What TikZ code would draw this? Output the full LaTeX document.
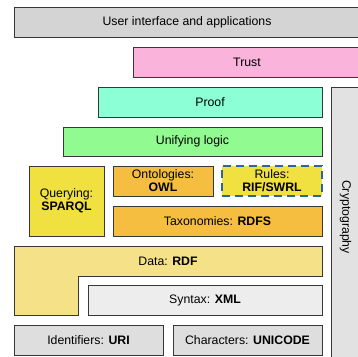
\documentclass[tikz,border=0pt]{standalone}
\usepackage{fontspec}
\setmainfont{Liberation Sans}
\usepackage{tikz}
\usetikzlibrary{positioning}

\definecolor{uigray}{RGB}{212,212,212}
\definecolor{trustpink}{RGB}{250,180,220}
\definecolor{proofgreen}{RGB}{140,255,215}
\definecolor{logicgreen}{RGB}{145,250,145}
\definecolor{queryyellow}{RGB}{240,225,65}
\definecolor{ontoorange}{RGB}{245,190,65}
\definecolor{rulesblue}{RGB}{45,100,160}
\definecolor{datayellow}{RGB}{245,225,135}
\definecolor{syntaxgray}{RGB}{237,237,237}
\definecolor{idgray}{RGB}{222,222,222}
\definecolor{cryptogray}{RGB}{226,226,226}
\definecolor{edgegray}{RGB}{55,55,55}

\begin{document}
\begin{tikzpicture}[x=1pt, y=-1pt,
    layer/.style={draw=edgegray, line width=1pt, inner sep=0pt, align=center,
        font=\fontsize{12.3}{13}\selectfont},
    dashedlayer/.style={layer, draw=rulesblue, line width=2pt, dash pattern=on 8pt off 5pt}]
    \useasboundingbox (0,0) rectangle (358,356);
    \clip (0,0) rectangle (358,356);

    \node[layer, fill=uigray, minimum width=346, minimum height=30] (ui) at (187, 22) {User interface and applications};
    \node[layer, fill=trustpink, minimum width=228, minimum height=30] (trust) at (247, 62) {Trust};
    \node[layer, fill=proofgreen, minimum width=224, minimum height=30] (proof) at (210, 102) {Proof};
    \node[layer, fill=logicgreen, minimum width=259, minimum height=29] (logic) at (192.5, 141.5) {Unifying logic};

    \node[layer, fill=queryyellow, minimum width=75, minimum height=70] (query) at (66.5, 201) {Querying:\\\textbf{SPARQL}};
    \node[layer, fill=ontoorange, minimum width=100, minimum height=30] (onto) at (163, 181) {Ontologies:\\\textbf{OWL}};
    \node[dashedlayer, fill=queryyellow, minimum width=100, minimum height=30] (rules) at (272, 181) {Rules:\\\textbf{RIF/SWRL}};
    \node[layer, fill=ontoorange, minimum width=209, minimum height=30] (tax) at (217.5, 221) {Taxonomies: \textbf{RDFS}};

    % data layer wraps round the syntax box
    \draw[draw=edgegray, line width=1pt, fill=datayellow]
        (14,246) -- (322,246) -- (322,276) -- (78,276) -- (78,315) -- (14,315) -- cycle;
    \node[font=\fontsize{12.3}{13}\selectfont] (data) at (168, 261) {Data: \textbf{RDF}};
    \node[layer, fill=syntaxgray, minimum width=234, minimum height=30] (syntax) at (205, 300) {Syntax: \textbf{XML}};

    \node[layer, fill=idgray, minimum width=149, minimum height=30] (uri) at (88.5, 340) {Identifiers: \textbf{URI}};
    \node[layer, fill=idgray, minimum width=149, minimum height=30] (unicode) at (247.5, 340) {Characters: \textbf{UNICODE}};

    % cryptography runs down the right side
    \node[layer, fill=cryptogray, minimum width=32, minimum height=275] (crypto) at (347, 224.5) {};
    \node[rotate=-90, font=\fontsize{12.3}{13}\selectfont] (cryptotext) at (345.5, 217) {Cryptography};
\end{tikzpicture}
\end{document}
